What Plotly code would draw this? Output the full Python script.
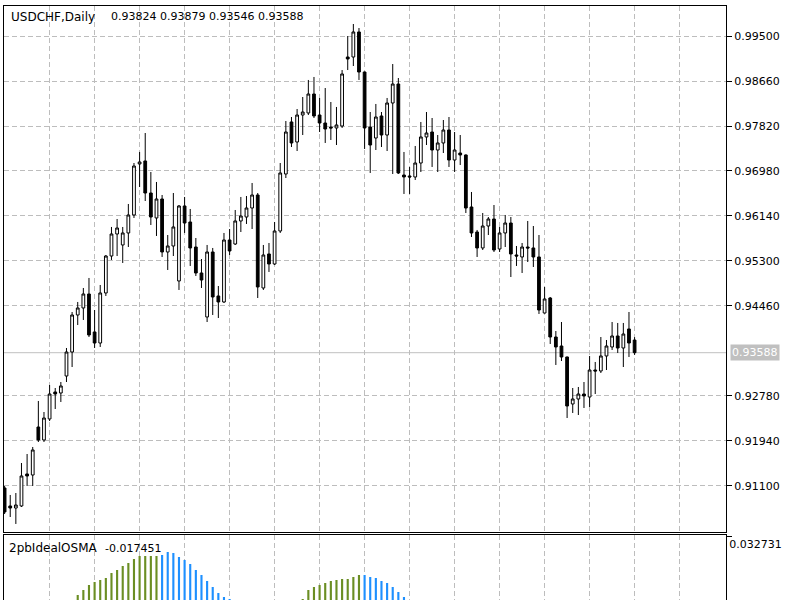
import plotly.graph_objects as go

# ---------------- data ----------------
symbol_label = "USDCHF,Daily"
indicator_name = "2pbIdealOSMA"
indicator_value_text = "-0.017451"
indicator_top_text = "0.032731"
indicator_top = 0.032731

opens = [0.91063, 0.90727, 0.90689, 0.90727, 0.91324, 0.91305, 0.92201, 0.91959, 0.92351, 0.92855,
         0.92836, 0.93153, 0.93601, 0.94292, 0.94423, 0.94684, 0.93975, 0.93769, 0.94703, 0.95393,
         0.95804, 0.95599, 0.95823, 0.96159, 0.97111, 0.97167, 0.96569, 0.96103, 0.96457, 0.95468,
         0.95580, 0.94927, 0.96327, 0.96028, 0.95561, 0.95076, 0.94255, 0.95468, 0.94647, 0.94535,
         0.95692, 0.95617, 0.96047, 0.96121, 0.96289, 0.96532, 0.94796, 0.95431, 0.95244, 0.95860,
         0.96924, 0.97895, 0.97521, 0.98025, 0.98063, 0.98417, 0.98025, 0.97876, 0.97801, 0.97783,
         0.97820, 0.99108, 0.99108, 0.99575, 0.98828, 0.97801, 0.97596, 0.98007, 0.97652, 0.98249,
         0.98604, 0.96905, 0.96887, 0.96868, 0.97129, 0.97615, 0.97708, 0.97372, 0.97503, 0.97745,
         0.97185, 0.97316, 0.97279, 0.96308, 0.95841, 0.95543, 0.95953, 0.96084, 0.95524, 0.95823,
         0.96009, 0.95412, 0.95375, 0.95561, 0.95543, 0.95375, 0.94329, 0.94609, 0.93881, 0.93713,
         0.93508, 0.92631, 0.92724, 0.92817, 0.92761, 0.93265, 0.93247, 0.93527, 0.93695, 0.93900,
         0.93676, 0.94031, 0.93824]
highs = [0.91100, 0.90932, 0.90969, 0.91529, 0.91697, 0.91828, 0.92687, 0.92481, 0.92985, 0.92929,
         0.93041, 0.93676, 0.94348, 0.94535, 0.94796, 0.94983, 0.94385, 0.94852, 0.95412, 0.95935,
         0.96084, 0.95935, 0.96364, 0.97129, 0.97335, 0.97689, 0.96961, 0.96775, 0.96532, 0.95785,
         0.96569, 0.96345, 0.96495, 0.96271, 0.95729, 0.95337, 0.95599, 0.95543, 0.94833, 0.95823,
         0.95897, 0.96252, 0.96495, 0.96513, 0.96756, 0.96569, 0.95599, 0.95636, 0.96028, 0.97129,
         0.97913, 0.97988, 0.98137, 0.98361, 0.98679, 0.98735, 0.98343, 0.98529, 0.98268, 0.98175,
         0.98865, 0.99500, 0.99724, 0.99649, 0.98836, 0.98081, 0.98231, 0.98081, 0.98343, 0.98977,
         0.98716, 0.97335, 0.97055, 0.97447, 0.97895, 0.98081, 0.97969, 0.97652, 0.97932, 0.97988,
         0.97708, 0.97652, 0.97290, 0.96588, 0.95879, 0.96196, 0.96121, 0.96345, 0.95935, 0.96159,
         0.96121, 0.95580, 0.95636, 0.96047, 0.95953, 0.95785, 0.94815, 0.94628, 0.93993, 0.94161,
         0.93515, 0.92929, 0.92948, 0.93041, 0.93527, 0.93415, 0.93881, 0.93825, 0.94161, 0.94143,
         0.94143, 0.94348, 0.93879]
lows = [0.90577, 0.90521, 0.90391, 0.90708, 0.91100, 0.91100, 0.91921, 0.91921, 0.92313, 0.92537,
        0.92668, 0.93041, 0.93321, 0.94105, 0.94199, 0.93881, 0.93676, 0.93695, 0.94647, 0.95319,
        0.95393, 0.95263, 0.95561, 0.96103, 0.96681, 0.96420, 0.95972, 0.95767, 0.95375, 0.95132,
        0.95393, 0.94759, 0.95823, 0.95207, 0.95020, 0.94796, 0.94161, 0.94292, 0.94236, 0.94516,
        0.95412, 0.95599, 0.95841, 0.95991, 0.95897, 0.94609, 0.94759, 0.95095, 0.95225, 0.95823,
        0.96849, 0.97428, 0.97353, 0.97652, 0.98025, 0.97969, 0.97708, 0.97503, 0.97559, 0.97465,
        0.97783, 0.98865, 0.98940, 0.98679, 0.97391, 0.96943, 0.97372, 0.97428, 0.97353, 0.96924,
        0.96924, 0.96551, 0.96551, 0.96812, 0.96961, 0.97465, 0.97055, 0.96961, 0.97316, 0.97055,
        0.96961, 0.97092, 0.96196, 0.95748, 0.95375, 0.95505, 0.95785, 0.95468, 0.95468, 0.95561,
        0.95001, 0.95207, 0.95076, 0.95281, 0.95188, 0.94311, 0.94320, 0.93751, 0.93359, 0.93433,
        0.92369, 0.92463, 0.92425, 0.92556, 0.92575, 0.92817, 0.93209, 0.93265, 0.93639, 0.93583,
        0.93321, 0.93508, 0.93546]
closes = [0.90615, 0.90689, 0.90745, 0.91287, 0.91287, 0.91772, 0.91959, 0.92369, 0.92817, 0.92817,
          0.92967, 0.93601, 0.94292, 0.94423, 0.94684, 0.93919, 0.93769, 0.94703, 0.95393, 0.95804,
          0.95916, 0.95823, 0.96159, 0.97073, 0.97148, 0.96569, 0.96121, 0.96457, 0.95468, 0.95580,
          0.95935, 0.96327, 0.96009, 0.95543, 0.95076, 0.94945, 0.95468, 0.94628, 0.94535, 0.95692,
          0.95487, 0.96047, 0.96140, 0.96289, 0.96532, 0.94815, 0.95412, 0.95244, 0.95860, 0.96943,
          0.97708, 0.97503, 0.98025, 0.98081, 0.98417, 0.98007, 0.97876, 0.97764, 0.97783, 0.97839,
          0.98791, 0.99071, 0.99575, 0.98828, 0.97783, 0.97465, 0.97988, 0.97652, 0.98249, 0.98604,
          0.96943, 0.96868, 0.96868, 0.97129, 0.97615, 0.97689, 0.97372, 0.97503, 0.97745, 0.97185,
          0.97372, 0.97279, 0.96289, 0.95823, 0.95543, 0.95953, 0.96084, 0.95505, 0.95823, 0.96009,
          0.95431, 0.95393, 0.95561, 0.95543, 0.95375, 0.94385, 0.94591, 0.93881, 0.93695, 0.93508,
          0.92593, 0.92724, 0.92817, 0.92780, 0.93265, 0.93247, 0.93527, 0.93713, 0.93900, 0.93676,
          0.93937, 0.93769, 0.93588]
bar_index = list(range(len(opens)))

price_ticks = [0.99500, 0.98660, 0.97820, 0.96980, 0.96140, 0.95300, 0.94460, 0.92780, 0.91940, 0.91100]
time_grid = [8, 16, 24, 32, 40, 48, 56, 64, 72, 80, 88, 96, 104, 112, 120]

osma_up_index = [13, 14, 15, 16, 17, 18, 19, 20, 21, 22, 23, 24, 25, 26, 27,
                 53, 54, 55, 56, 57, 58, 59, 60, 61, 62, 63]
osma_up = [0.01503, 0.01653, 0.01803, 0.01893, 0.01953, 0.02013, 0.02163, 0.02253, 0.02373, 0.02463,
           0.02583, 0.02673, 0.02673, 0.02673, 0.02673,
           0.01383, 0.01653, 0.01743, 0.01803, 0.01863, 0.01923, 0.01953, 0.01983, 0.01983, 0.02043, 0.02103]
osma_down_index = [28, 29, 30, 31, 32, 33, 34, 35, 36, 37, 38, 39, 40,
                   64, 65, 66, 67, 68, 69, 70, 71]
osma_down = [0.02703, 0.02793, 0.02763, 0.02643, 0.02553, 0.02433, 0.02253, 0.02103, 0.01923, 0.01743,
             0.01563, 0.01443, 0.01383,
             0.02103, 0.02043, 0.02013, 0.01923, 0.01863, 0.01743, 0.01593, 0.01443]

# ---------------- figure ----------------
W, H = 800, 600
FONT = "DejaVu Sans"
GRID = "#BDBDBD"
DASH = "5px,3px"

fig = go.Figure()

fig.add_trace(go.Candlestick(
    x=bar_index, open=opens, high=highs, low=lows, close=closes,
    xaxis="x", yaxis="y",
    increasing=dict(line=dict(color="black", width=1), fillcolor="white"),
    decreasing=dict(line=dict(color="black", width=1), fillcolor="black"),
    whiskerwidth=0, showlegend=False, hoverinfo="skip",
))

fig.add_trace(go.Bar(x=osma_up_index, y=osma_up, xaxis="x2", yaxis="y2",
                     marker=dict(color="#6B8E23", line=dict(width=0)), width=0.38,
                     showlegend=False, hoverinfo="skip"))
fig.add_trace(go.Bar(x=osma_down_index, y=osma_down, xaxis="x2", yaxis="y2",
                     marker=dict(color="#1E90FF", line=dict(width=0)), width=0.38,
                     showlegend=False, hoverinfo="skip"))

x_left, x_right = -0.107, 128.25
main_range = [0.90241, 1.00060]
ind_range = [0.013531, 0.033031]

common_x = dict(range=[x_left, x_right], domain=[4 / W, 726 / W], tickvals=time_grid,
                showticklabels=False, ticks="", showgrid=True, gridcolor=GRID, gridwidth=1,
                griddash=DASH, zeroline=False, fixedrange=True)

fig.update_layout(
    width=W, height=H, autosize=False,
    margin=dict(l=0, r=0, t=0, b=0, pad=0),
    paper_bgcolor="white", plot_bgcolor="white",
    font=dict(family=FONT, size=11, color="black"),
    showlegend=False, barmode="overlay",
    xaxis=dict(**common_x, anchor="y", rangeslider=dict(visible=False),
               showline=True, mirror=True, linecolor="black", linewidth=1),
    xaxis2=dict(**common_x, anchor="y2", matches="x", side="top",
                showline=True, mirror=False, linecolor="black", linewidth=1),
    yaxis=dict(domain=[1 - 532 / H, 1 - 6 / H], range=main_range, side="right",
               tickvals=price_ticks, ticktext=["%.5f" % v for v in price_ticks],
               ticks="outside", ticklen=5, tickcolor="black", tickwidth=1,
               tickfont=dict(family=FONT, size=11, color="black"),
               showgrid=True, gridcolor=GRID, gridwidth=1, griddash=DASH,
               showline=True, mirror=True, linecolor="black", linewidth=1,
               zeroline=False, anchor="x", fixedrange=True),
    yaxis2=dict(domain=[0, 1 - 535 / H], range=ind_range, side="right",
                tickvals=[indicator_top], ticktext=[indicator_top_text],
                ticklabelposition="outside bottom",
                ticks="outside", ticklen=5, tickcolor="black", tickwidth=1,
                tickfont=dict(family=FONT, size=11, color="black"),
                showgrid=False, showline=True, mirror=True, linecolor="black", linewidth=1,
                zeroline=False, anchor="x2", fixedrange=True),
)

# bid line at last close
fig.add_shape(type="line", xref="x domain", x0=0, x1=1, yref="y", y0=closes[-1], y1=closes[-1],
              line=dict(color="#C0C0C0", width=1), layer="below")

ohlc_text = " ".join("%.5f" % v for v in (opens[-1], highs[-1], lows[-1], closes[-1]))

annotations = [
    dict(x=9 / W, y=1 - 17 / H, xref="paper", yref="paper", xanchor="left", yanchor="middle",
         text=symbol_label, showarrow=False, font=dict(family=FONT, size=12, color="black")),
    dict(x=109 / W, y=1 - 17 / H, xref="paper", yref="paper", xanchor="left", yanchor="middle",
         text=ohlc_text, showarrow=False, font=dict(family=FONT, size=11, color="black")),
    dict(x=7 / W, y=1 - 548 / H, xref="paper", yref="paper", xanchor="left", yanchor="middle",
         text=indicator_name, showarrow=False, font=dict(family=FONT, size=12, color="black")),
    dict(x=103 / W, y=1 - 548 / H, xref="paper", yref="paper", xanchor="left", yanchor="middle",
         text=indicator_value_text, showarrow=False, font=dict(family=FONT, size=11, color="black")),
    dict(x=730 / W, y=closes[-1], xref="paper", yref="y", xanchor="left", yanchor="middle",
         text="%.5f" % closes[-1], showarrow=False, bgcolor="#C0C0C0", borderpad=1,
         font=dict(family=FONT, size=11, color="white")),
]
fig.update_layout(annotations=annotations)

fig.write_html("out.html")
